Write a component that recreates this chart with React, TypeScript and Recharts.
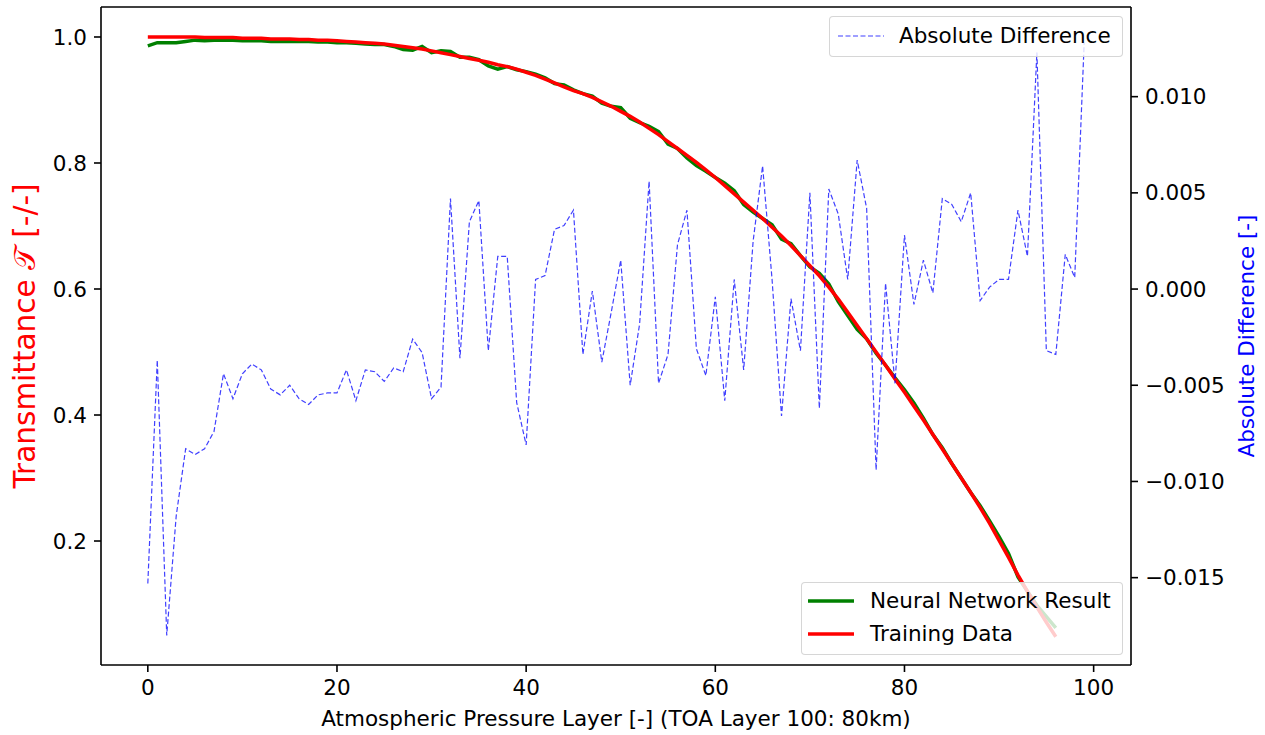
import React from 'react';
import { ComposedChart, Line, XAxis, YAxis, ReferenceLine } from 'recharts';

// ---------- data ----------
const layers: number[] = Array.from({ length: 100 }, (_, i) => i);

const trainingData: number[] = [
  1.000, 1.000, 1.000, 1.000, 1.000, 1.000, 0.999, 0.999, 0.999, 0.999,
  0.998, 0.998, 0.998, 0.997, 0.997, 0.997, 0.996, 0.996, 0.995, 0.995,
  0.994, 0.993, 0.992, 0.991, 0.990, 0.989, 0.987, 0.985, 0.983, 0.981,
  0.978, 0.975, 0.972, 0.969, 0.966, 0.963, 0.960, 0.956, 0.953, 0.949,
  0.944, 0.939, 0.933, 0.927, 0.921, 0.915, 0.910, 0.904, 0.897, 0.890,
  0.882, 0.874, 0.865, 0.855, 0.845, 0.834, 0.823, 0.812, 0.801, 0.789,
  0.777, 0.764, 0.751, 0.738, 0.725, 0.712, 0.698, 0.684, 0.669, 0.653,
  0.637, 0.621, 0.603, 0.584, 0.563, 0.542, 0.521, 0.500, 0.479, 0.457,
  0.436, 0.414, 0.392, 0.369, 0.346, 0.323, 0.300, 0.277, 0.253, 0.228,
  0.201, 0.174, 0.146, 0.120, 0.095, 0.071, 0.048,
];

const nnResult: number[] = [
  0.986, 0.991, 0.991, 0.991, 0.993, 0.995, 0.994, 0.995, 0.995, 0.995,
  0.994, 0.994, 0.994, 0.993, 0.993, 0.993, 0.993, 0.993, 0.992, 0.992,
  0.991, 0.991, 0.990, 0.989, 0.988, 0.988, 0.985, 0.980, 0.979, 0.985,
  0.975, 0.978, 0.977, 0.968, 0.968, 0.964, 0.954, 0.949, 0.953, 0.948,
  0.945, 0.941, 0.935, 0.926, 0.924, 0.916, 0.910, 0.906, 0.895, 0.890,
  0.888, 0.871, 0.864, 0.858, 0.850, 0.830, 0.823, 0.808, 0.796, 0.787,
  0.777, 0.768, 0.756, 0.734, 0.722, 0.712, 0.702, 0.679, 0.672, 0.653,
  0.635, 0.625, 0.608, 0.580, 0.558, 0.536, 0.521, 0.498, 0.479, 0.459,
  0.440, 0.419, 0.395, 0.369, 0.348, 0.323, 0.300, 0.277, 0.256, 0.232,
  0.207, 0.180, 0.143, 0.120, 0.098, 0.080, 0.062,
];

const absDiff: number[] = [
  -0.0153, -0.0037, -0.0180, -0.0118, -0.0083, -0.0086, -0.0083, -0.0074, -0.0044, -0.0057,
  -0.0044, -0.0039, -0.0042, -0.0052, -0.0055, -0.0050, -0.0057, -0.0060, -0.0055, -0.0054,
  -0.0054, -0.0042, -0.0058, -0.0042, -0.0043, -0.0048, -0.0041, -0.0043, -0.0026, -0.0033,
  -0.0057, -0.0051, 0.0047, -0.0036, 0.0035, 0.0046, -0.0032, 0.0017, 0.0017, -0.0059,
  -0.0081, 0.0005, 0.0007, 0.0031, 0.0033, 0.0041, -0.0034, -0.0001, -0.0038, -0.0012,
  0.0015, -0.0050, -0.0018, 0.0056, -0.0049, -0.0034, 0.0023, 0.0041, -0.0031, -0.0045,
  -0.0004, -0.0058, 0.0005, -0.0042, 0.0025, 0.0064, 0.0005, -0.0066, -0.0005, -0.0032,
  0.0050, -0.0062, 0.0052, 0.0039, 0.0005, 0.0067, 0.0042, -0.0094, 0.0003, -0.0049,
  0.0028, -0.0008, 0.0015, -0.0002, 0.0047, 0.0044, 0.0035, 0.0050, -0.0006, 0.0001,
  0.0005, 0.0005, 0.0041, 0.0017, 0.0123, -0.0032, -0.0034, 0.0018, 0.0006, 0.0128,
];

const xTicks: number[] = [0, 20, 40, 60, 80, 100];
const leftTicks: number[] = [0.2, 0.4, 0.6, 0.8, 1.0];
const rightTicks: number[] = [-0.015, -0.01, -0.005, 0, 0.005, 0.01];

const data = layers.map((layer, i) => ({
  layer,
  train: i < trainingData.length ? trainingData[i] : null,
  nn: i < nnResult.length ? nnResult[i] : null,
  diff: absDiff[i],
}));

// ---------- styles ----------
const W = 1265;
const H = 735;
const FONT = '"DejaVu Sans", sans-serif';
const FS = 21.5;
const AXIS = { stroke: '#000', strokeWidth: 1.6 };
const TICK = { fill: '#000', fontSize: FS, fontFamily: FONT };

const fmtRight = (v: number) => {
  const s = Math.abs(v).toFixed(3);
  return v < -1e-12 ? '\u2212' + s : s;
};

const LeftLabel = (props: any) => {
  const vb = props.viewBox || { x: 0, y: 7, width: 101, height: 658 };
  const cx = vb.x + 25;
  const cy = vb.y + vb.height / 2;
  return (
    <text
      x={cx}
      y={cy}
      transform={`rotate(-90, ${cx}, ${cy})`}
      textAnchor="middle"
      dominantBaseline="central"
      fill="#ff0000"
      fontSize={29.5}
      fontFamily={FONT}
    >
      Transmittance 𝒯 [-/-]
    </text>
  );
};

const RightLabel = (props: any) => {
  const vb = props.viewBox || { x: 1131, y: 7, width: 134, height: 658 };
  const cx = vb.x + 115;
  const cy = vb.y + vb.height / 2;
  return (
    <text
      x={cx}
      y={cy}
      transform={`rotate(-90, ${cx}, ${cy})`}
      textAnchor="middle"
      dominantBaseline="central"
      fill="#0000ff"
      fontSize={FS}
      fontFamily={FONT}
    >
      Absolute Difference [-]
    </text>
  );
};

const BottomLabel = (props: any) => {
  const vb = props.viewBox || { x: 101, y: 665, width: 1030, height: 70 };
  return (
    <text
      x={vb.x + vb.width / 2}
      y={vb.y + 61}
      textAnchor="middle"
      fill="#000"
      fontSize={FS}
      fontFamily={FONT}
    >
      Atmospheric Pressure Layer [-] (TOA Layer 100: 80km)
    </text>
  );
};

const legendBox: React.CSSProperties = {
  position: 'absolute',
  background: 'rgba(255,255,255,0.8)',
  border: '1.3px solid rgba(204,204,204,0.8)',
  borderRadius: 4,
  boxSizing: 'border-box',
  pointerEvents: 'none',
};

const Row = ({ top, left, textLeft, stroke, width, dash, label }: any) => (
  <>
    <svg
      style={{ position: 'absolute', left, top: top - 5 }}
      width={48}
      height={10}
    >
      <line
        x1={0}
        y1={5}
        x2={46}
        y2={5}
        stroke={stroke}
        strokeWidth={width}
        strokeDasharray={dash}
        strokeOpacity={dash ? 0.75 : 1}
      />
    </svg>
    <div
      style={{
        position: 'absolute',
        left: textLeft,
        top: top - 13,
        lineHeight: '26px',
        whiteSpace: 'nowrap',
        fontFamily: FONT,
        fontSize: FS,
        color: '#000',
      }}
    >
      {label}
    </div>
  </>
);

export default function App() {
  return (
    <div
      style={{
        position: 'absolute',
        left: 0,
        top: 0,
        width: W,
        height: H,
        background: '#fff',
        overflow: 'hidden',
        fontFamily: FONT,
      }}
    >
      <ComposedChart
        width={W}
        height={H}
        data={data}
        margin={{ top: 7, right: 0, bottom: 0, left: 0 }}
      >
        <XAxis
          dataKey="layer"
          type="number"
          domain={[-4.95, 103.95]}
          allowDataOverflow
          ticks={xTicks}
          interval={0}
          height={70}
          tickSize={7}
          tickMargin={8}
          axisLine={AXIS}
          tickLine={AXIS}
          tick={TICK}
          label={<BottomLabel />}
        />
        <YAxis
          yAxisId="left"
          orientation="left"
          width={101}
          type="number"
          domain={[0.0032, 1.0476]}
          allowDataOverflow
          ticks={leftTicks}
          interval={0}
          tickFormatter={(v: number) => v.toFixed(1)}
          tickSize={7}
          tickMargin={7}
          axisLine={AXIS}
          tickLine={AXIS}
          tick={TICK}
          label={<LeftLabel />}
        />
        <YAxis
          yAxisId="right"
          orientation="right"
          width={134}
          type="number"
          domain={[-0.01954, 0.01466]}
          allowDataOverflow
          ticks={rightTicks}
          interval={0}
          tickFormatter={fmtRight}
          tickSize={7}
          tickMargin={7}
          axisLine={AXIS}
          tickLine={AXIS}
          tick={TICK}
          label={<RightLabel />}
        />
        <ReferenceLine yAxisId="left" y={1.0476} stroke="#000" strokeWidth={1.6} />
        <Line
          yAxisId="left"
          type="linear"
          dataKey="nn"
          stroke="#008000"
          strokeWidth={3.5}
          dot={false}
          activeDot={false}
          isAnimationActive={false}
        />
        <Line
          yAxisId="left"
          type="linear"
          dataKey="train"
          stroke="#ff0000"
          strokeWidth={3.5}
          dot={false}
          activeDot={false}
          isAnimationActive={false}
        />
        <Line
          yAxisId="right"
          type="linear"
          dataKey="diff"
          stroke="#0000ff"
          strokeOpacity={0.75}
          strokeWidth={1.2}
          strokeDasharray="5 2.5"
          dot={false}
          activeDot={false}
          isAnimationActive={false}
        />
      </ComposedChart>

      <div style={{ ...legendBox, left: 829, top: 16, width: 294, height: 41 }} />
      <Row top={36} left={838} textLeft={899} stroke="#0000ff" width={1.2} dash="5 2.5" label="Absolute Difference" />

      <div style={{ ...legendBox, left: 801, top: 582, width: 322, height: 73 }} />
      <Row top={601} left={808} textLeft={870} stroke="#008000" width={3.5} label="Neural Network Result" />
      <Row top={634} left={808} textLeft={870} stroke="#ff0000" width={3.5} label="Training Data" />
    </div>
  );
}
